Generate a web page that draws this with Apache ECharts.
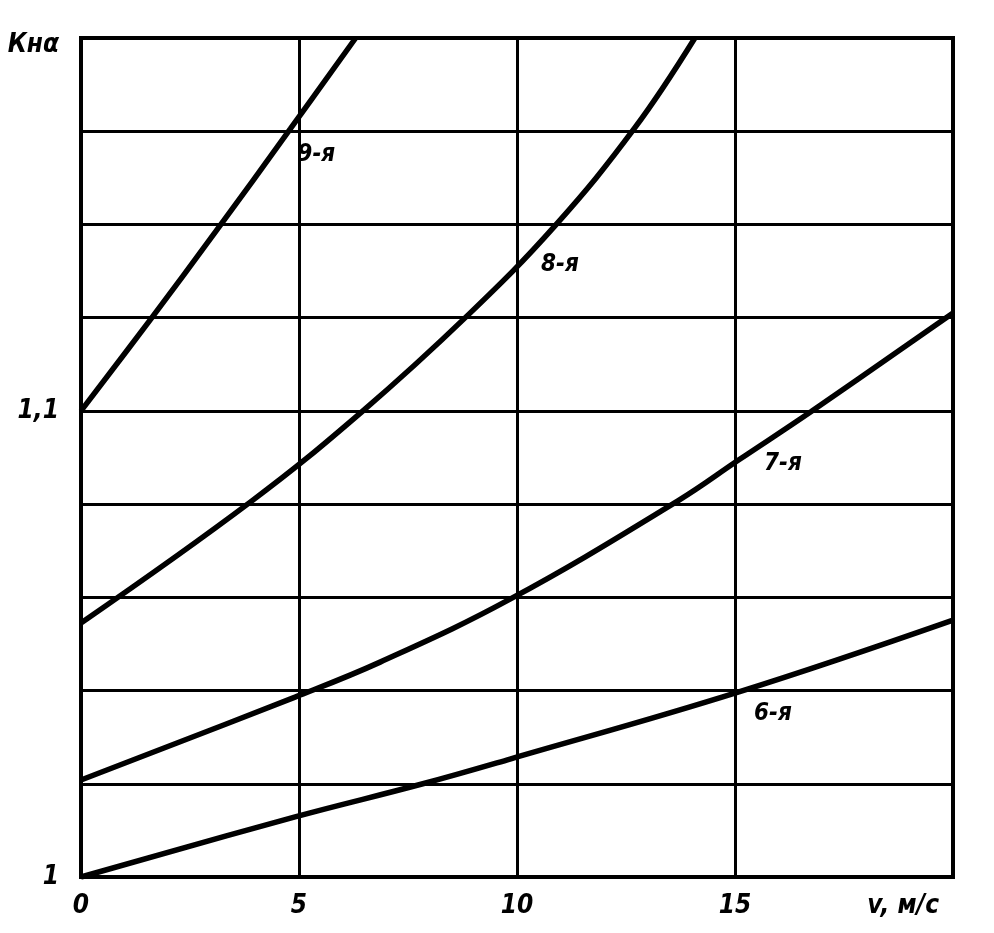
<!DOCTYPE html>
<html><head><meta charset="utf-8">
<script src="https://cdn.jsdelivr.net/npm/echarts@6/dist/echarts.min.js"></script>
<style>html,body{margin:0;padding:0;background:#fff}#c{width:994px;height:933px}</style>
</head><body><div id="c"></div>
<script>
// ---- data ----
const xTickLabels = ['0', '5', '10', '15'];
const xAxisName = 'v, м/с';
const yTickValues = [1, 1.1, 1.18];
const yTickLabels = ['1', '1,1', 'Кнα'];
const seriesNames = ['9-я', '8-я', '7-я', '6-я'];
const curve9 = [[0, 1.100], [1.6, 1.1197], [3.1, 1.1386], [4.8, 1.1605], [6.3, 1.180]];
const curve8 = [[0, 1.0545], [3.92, 1.0807], [6.44, 1.0998], [8.88, 1.1206], [10.87, 1.1397], [12.7, 1.1607], [14.08, 1.180]];
const curve7 = [[0, 1.0208], [4.91, 1.0386], [6.86, 1.0461], [9.84, 1.0596], [13.69, 1.0807], [15.09, 1.0895], [16.74, 1.0998], [20, 1.121]];
const curve6 = [[0, 1.000], [4.91, 1.0129], [7.84, 1.020], [9.84, 1.0253], [15.09, 1.0397], [20, 1.0551]];

// ---- styling ----
const FONT = { fontFamily: "'DejaVu Sans Condensed', 'Liberation Sans', sans-serif", fontStyle: 'italic', fontWeight: 'bold', fontSize: 26, color: '#000' };

function build(data, name, labelAt, offset) {
  return {
    type: 'line', name: name, smooth: 0.4, showSymbol: true, symbol: 'circle', symbolSize: 0,
    lineStyle: { color: '#000', width: 5.5 }, itemStyle: { color: '#000' },
    emphasis: { disabled: true },
    data: data.map((p, i) => i === labelAt
      ? { value: p, label: Object.assign({ show: true, formatter: name, position: 'inside', offset: offset }, FONT, { fontSize: 24 }) }
      : { value: p }),
    clip: true, z: 3
  };
}

const chart = echarts.init(document.getElementById('c'), null, { renderer: 'canvas' });
chart.setOption({
  animation: false,
  backgroundColor: '#fff',
  grid: { left: 81, right: 41, top: 38, bottom: 56, show: true, borderColor: '#000', borderWidth: 4, backgroundColor: 'transparent' },
  xAxis: {
    type: 'value', min: 0, max: 20, interval: 5,
    axisLine: { show: true, onZero: false, lineStyle: { color: '#000', width: 4 } },
    axisTick: { show: false },
    splitLine: { show: true, lineStyle: { color: '#000', width: 3 } },
    axisLabel: Object.assign({
      margin: 16, showMaxLabel: true,
      formatter: function (v) { const i = Math.round(v / 5); return i < xTickLabels.length ? xTickLabels[i] : ''; }
    }, FONT),
    name: xAxisName, nameLocation: 'end', nameGap: -14,
    nameTextStyle: Object.assign({}, FONT, { align: 'right', verticalAlign: 'top', padding: [16, 0, 0, 0] })
  },
  yAxis: {
    type: 'value', min: 1, max: 1.18, interval: 0.02,
    axisLine: { show: true, onZero: false, lineStyle: { color: '#000', width: 4 } },
    axisTick: { show: false },
    splitLine: { show: true, lineStyle: { color: '#000', width: 3 } },
    axisLabel: Object.assign({
      margin: 22, showMaxLabel: true, showMinLabel: true,
      formatter: function (v) {
        const idx = yTickValues.findIndex(t => Math.abs(t - v) < 1e-6);
        if (idx < 0) return '';
        return idx === yTickLabels.length - 1 ? '{k|' + yTickLabels[idx] + '}' : yTickLabels[idx];
      },
      rich: { k: Object.assign({}, FONT, { padding: [14, 0, 0, 0] }) }
    }, FONT)
  },
  series: [
    build(curve9, seriesNames[0], 3, [26, 26]),
    build(curve8, seriesNames[1], 4, [5, 39]),
    build(curve7, seriesNames[2], 5, [44, 4]),
    build(curve6, seriesNames[3], 4, [34, 22])
  ]
});
</script>
</body></html>
